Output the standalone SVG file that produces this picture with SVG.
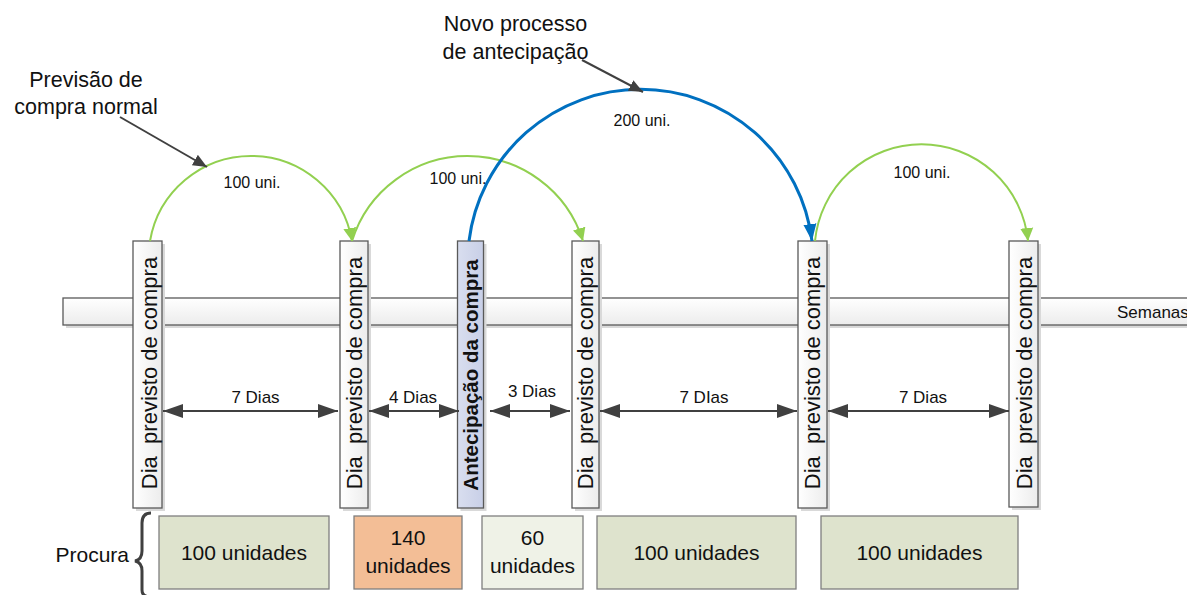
<svg xmlns="http://www.w3.org/2000/svg" width="1187" height="595" viewBox="0 0 1187 595">
<style>
text{font-family:"Liberation Sans",Arial,sans-serif;fill:#111}
.lbl{font-size:21.5px}
.small{font-size:16px}
.days{font-size:17px}
.vt{font-size:22px;white-space:pre}
.vtb{font-size:20.5px;font-weight:bold}
.bt{font-size:21px}
.vbox{fill:url(#gWhite);stroke:#595959;stroke-width:1.3}
.shadow{fill:#d9d9d9}
.dem{stroke:#7f7f7f;stroke-width:1.3}
.green{fill:none;stroke:#92d050;stroke-width:2;marker-end:url(#mGreen)}
.blue{fill:none;stroke:#0070c0;stroke-width:3;marker-end:url(#mBlue)}
.ptr{fill:none;stroke:#404040;stroke-width:2;marker-end:url(#mGray)}
.dbl{fill:none;stroke:#404040;stroke-width:2;marker-start:url(#mDbl);marker-end:url(#mDbl)}
</style>
<defs>
<linearGradient id="gWhite" x1="0" y1="0" x2="1" y2="0">
<stop offset="0" stop-color="#ffffff"/><stop offset="1" stop-color="#ececec"/>
</linearGradient>
<linearGradient id="gBar" x1="0" y1="0" x2="0" y2="1">
<stop offset="0" stop-color="#ffffff"/><stop offset="1" stop-color="#ececec"/>
</linearGradient>
<linearGradient id="gBlue" x1="0" y1="0" x2="1" y2="0">
<stop offset="0" stop-color="#d9deef"/><stop offset="1" stop-color="#c8cfe7"/>
</linearGradient>
<marker id="mGreen" markerUnits="userSpaceOnUse" markerWidth="14" markerHeight="14" refX="13" refY="6.5" orient="auto" viewBox="0 0 14 13">
<path d="M0,0 L13,6.5 L0,13 z" fill="#92d050"/>
</marker>
<marker id="mBlue" markerUnits="userSpaceOnUse" markerWidth="18" markerHeight="14" refX="17" refY="6.5" orient="auto" viewBox="0 0 18 13">
<path d="M0,0 L17,6.5 L0,13 z" fill="#0070c0"/>
</marker>
<marker id="mGray" markerUnits="userSpaceOnUse" markerWidth="15" markerHeight="13" refX="14" refY="6" orient="auto" viewBox="0 0 15 12">
<path d="M0,0 L14,6 L0,12 z" fill="#404040"/>
</marker>
<marker id="mDbl" markerUnits="userSpaceOnUse" markerWidth="21" markerHeight="15" refX="20" refY="7" orient="auto-start-reverse" viewBox="0 0 21 14">
<path d="M0,0 L20,7 L0,14 z" fill="#404040"/>
</marker>
</defs>

<g id="timeline">
<rect x="66" y="301" width="1130" height="27" class="shadow"/>
<rect x="63" y="298" width="1130" height="27" fill="url(#gBar)" stroke="#595959" stroke-width="1.3"/>
<text x="1117" y="318" class="days">Semanas</text>
</g>

<g id="box1">
<rect x="136" y="244" width="29" height="267" class="shadow"/>
<rect x="133" y="241" width="29" height="267" class="vbox"/>
<text class="vt" text-anchor="middle" transform="translate(157,373) rotate(-90)">Dia  previsto de compra</text>
</g>
<g id="box2">
<rect x="343" y="244" width="28" height="267" class="shadow"/>
<rect x="340" y="241" width="28" height="267" class="vbox"/>
<text class="vt" text-anchor="middle" transform="translate(362,373) rotate(-90)">Dia  previsto de compra</text>
</g>
<g id="box3">
<rect x="460.5" y="244" width="26" height="267" class="shadow"/>
<rect x="457.5" y="241" width="26" height="267" fill="url(#gBlue)" stroke="#595959" stroke-width="1.3"/>
<text class="vtb" text-anchor="middle" transform="translate(478,375) rotate(-90)">Antecipação da compra</text>
</g>
<g id="box4">
<rect x="575" y="244" width="27" height="267" class="shadow"/>
<rect x="572" y="241" width="27" height="267" class="vbox"/>
<text class="vt" text-anchor="middle" transform="translate(593,373) rotate(-90)">Dia  previsto de compra</text>
</g>
<g id="box5">
<rect x="801" y="244" width="29" height="267" class="shadow"/>
<rect x="798" y="241" width="29" height="267" class="vbox"/>
<text class="vt" text-anchor="middle" transform="translate(820,373) rotate(-90)">Dia  previsto de compra</text>
</g>
<g id="box6">
<rect x="1012" y="244" width="29" height="266" class="shadow"/>
<rect x="1009" y="241" width="29" height="266" class="vbox"/>
<text class="vt" text-anchor="middle" transform="translate(1032,373) rotate(-90)">Dia  previsto de compra</text>
</g>

<g id="demand">
<text x="129" y="562" class="bt" text-anchor="end">Procura</text>
<path d="M151,513 C145,513 142,516 142,523 L142,551 C142,557 140,560 135,561 C140,562 142,565 142,571 L142,590 C142,595 145,597 151,597" fill="none" stroke="#404040" stroke-width="3"/>
<rect x="159" y="516" width="170" height="73" fill="#dee3cd" class="dem"/>
<text x="244" y="560" class="bt" text-anchor="middle">100 unidades</text>
<rect x="354" y="516" width="108" height="73" fill="#f3be96" class="dem"/>
<text x="408" y="545" class="bt" text-anchor="middle">140</text>
<text x="408" y="573" class="bt" text-anchor="middle">unidades</text>
<rect x="482" y="516" width="101" height="73" fill="#eff2e7" class="dem"/>
<text x="532.5" y="545" class="bt" text-anchor="middle">60</text>
<text x="532.5" y="573" class="bt" text-anchor="middle">unidades</text>
<rect x="597" y="516" width="199" height="73" fill="#dee3cd" class="dem"/>
<text x="696.5" y="560" class="bt" text-anchor="middle">100 unidades</text>
<rect x="821" y="516" width="197" height="73" fill="#dee3cd" class="dem"/>
<text x="919.5" y="560" class="bt" text-anchor="middle">100 unidades</text>
</g>

<g id="connectors">
<path class="green" d="M150,241 A102.5,102.5 0 0 1 352,241"/>
<path class="green" d="M352,241 A121,121 0 0 1 583,241"/>
<path class="green" d="M815,241 A107,107 0 0 1 1028,241"/>
<path class="blue" d="M469,241 A172.8,172.8 0 0 1 812,241"/>
<path class="ptr" d="M120,117 L207,167"/>
<path class="ptr" d="M582,60 L643,92"/>
<path class="dbl" d="M163,411 L338,411"/>
<path class="dbl" d="M369,411 L459,411"/>
<path class="dbl" d="M490,411 L570,411"/>
<path class="dbl" d="M600,411 L797,411"/>
<path class="dbl" d="M828,411 L1009,411"/>
</g>

<g id="labels">
<text x="86" y="87" class="lbl" text-anchor="middle">Previsão de</text>
<text x="86" y="114" class="lbl" text-anchor="middle">compra normal</text>
<text x="515.5" y="31" class="lbl" text-anchor="middle">Novo processo</text>
<text x="515.5" y="59" class="lbl" text-anchor="middle">de antecipação</text>
<text x="252" y="188" class="small" text-anchor="middle">100 uni.</text>
<text x="458" y="184" class="small" text-anchor="middle">100 uni.</text>
<text x="642" y="126" class="small" text-anchor="middle">200 uni.</text>
<text x="922" y="178" class="small" text-anchor="middle">100 uni.</text>
<text x="255.5" y="403" class="days" text-anchor="middle">7 Dias</text>
<text x="413" y="403" class="days" text-anchor="middle">4 Dias</text>
<text x="532" y="397" class="days" text-anchor="middle">3 Dias</text>
<text x="704" y="403" class="days" text-anchor="middle">7 DIas</text>
<text x="923" y="403" class="days" text-anchor="middle">7 Dias</text>
</g>
</svg>
